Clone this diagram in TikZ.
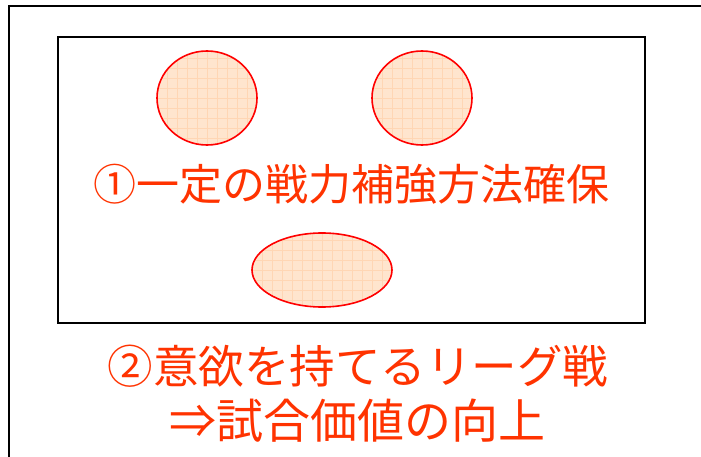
\documentclass[tikz,border=0pt]{standalone}
\usepackage{fontspec}
\newfontfamily\jpfont{Noto Sans CJK JP}
\usetikzlibrary{shapes.geometric}
\definecolor{txtred}{RGB}{255,51,0}
\definecolor{peach}{RGB}{255,229,206}
\definecolor{peachgrid}{RGB}{255,214,180}
\definecolor{ringred}{RGB}{255,0,0}
\tikzset{
  frameline/.style={draw=black, line width=2pt},
  blob/.style={ellipse, draw=ringred, line width=1.6pt, fill=peach, inner sep=0pt,
    path picture={\draw[peachgrid, line width=0.6pt, step=10pt]
      (path picture bounding box.south west) grid (path picture bounding box.north east);}},
  label/.style={text=txtred, font=\jpfont\fontsize{43}{55}\selectfont, align=center, inner sep=0pt}
}
\begin{document}
\begin{tikzpicture}[x=1pt, y=-1pt]
\useasboundingbox (0,0) rectangle (701,457);
\fill[white] (0,0) rectangle (701,457);
\coordinate (ob) at (9,457);
\coordinate (oc) at (9,6);
\coordinate (or) at (701,6);
\draw[frameline] (ob) -- (oc) -- (or);
\node[frameline, rectangle, minimum width=587pt, minimum height=286pt, inner sep=0pt] (inner) at (351.5,180) {};
\node[blob, minimum width=100pt, minimum height=94pt] (c1) at (207,98) {};
\node[blob, minimum width=100pt, minimum height=94pt] (c2) at (422,98) {};
\node[blob, minimum width=140pt, minimum height=74pt] (c3) at (322,270) {};
\node[label] (t1) at (351,184) {①一定の戦力補強方法確保};
\node[label, font=\jpfont\fontsize{45.5}{55}\selectfont] (t2) at (358,366) {②意欲を持てるリーグ戦};
\node[label, font=\jpfont\fontsize{47}{55}\selectfont] (t3) at (357,421) {⇒試合価値の向上};
\end{tikzpicture}
\end{document}
